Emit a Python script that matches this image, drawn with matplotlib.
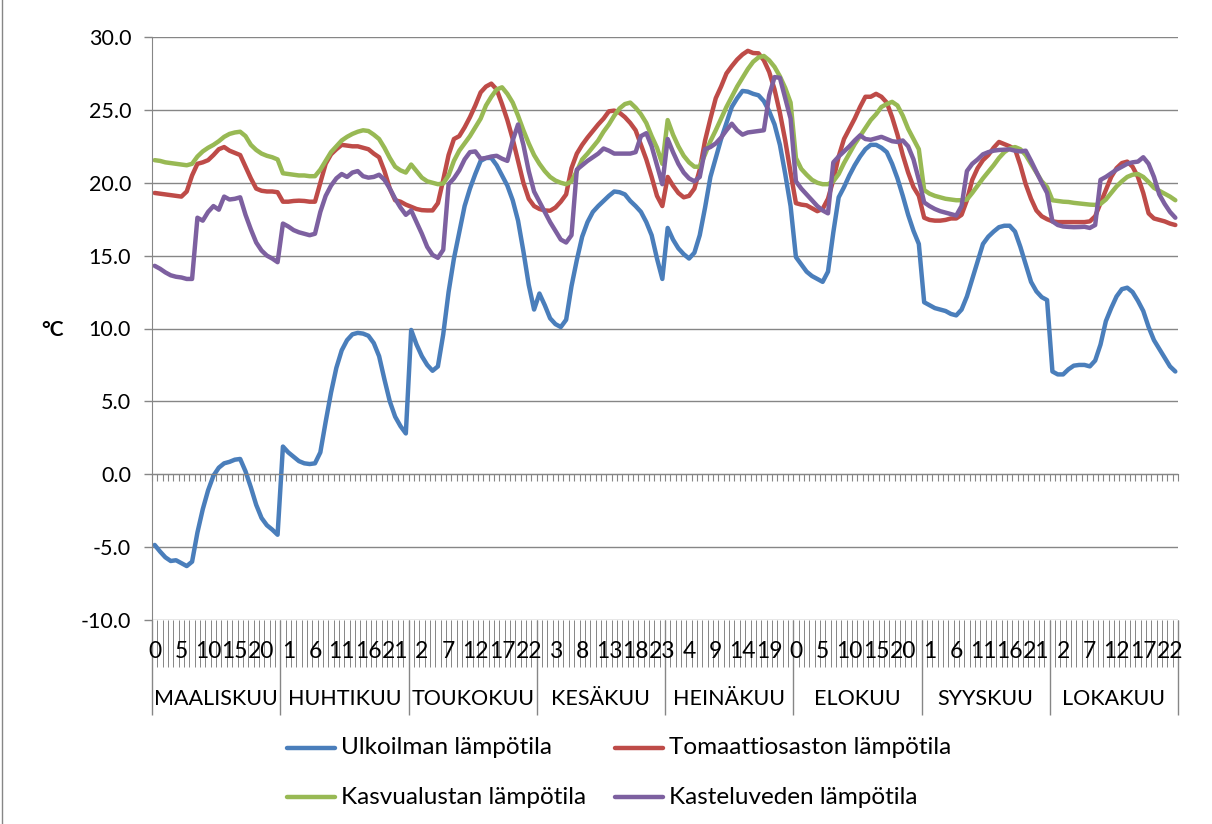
import numpy as np
import matplotlib
matplotlib.use('Agg')
import matplotlib.pyplot as plt
from matplotlib.lines import Line2D

plt.rcParams['font.family'] = ['Lato', 'DejaVu Sans']

# Kuukausien keskimääräiset tuntilämpötilat (tunnit 0-23)
months = ['MAALISKUU', 'HUHTIKUU', 'TOUKOKUU', 'KESÄKUU',
          'HEINÄKUU', 'ELOKUU', 'SYYSKUU', 'LOKAKUU']
hours = list(range(24))

ulkoilma = [
    -4.85, -5.3, -5.7, -5.95, -5.9, -6.1, -6.3, -6.0, -4.0, -2.4, -1.1, -0.1,
    0.45, 0.75, 0.85, 1.0, 1.05, 0.2, -0.9, -2.1, -3.0, -3.5, -3.8, -4.15,
    1.9, 1.5, 1.2, 0.9, 0.75, 0.7, 0.75, 1.5, 3.6, 5.6, 7.3, 8.5,
    9.2, 9.6, 9.7, 9.65, 9.5, 9.0, 8.1, 6.5, 5.0, 3.95, 3.3, 2.8,
    9.9, 8.9, 8.1, 7.5, 7.1, 7.4, 9.6, 12.5, 14.8, 16.6, 18.4, 19.6,
    20.6, 21.5, 21.7, 21.7, 21.2, 20.5, 19.8, 18.8, 17.4, 15.3, 13.0, 11.3,
    12.4, 11.6, 10.7, 10.3, 10.1, 10.6, 12.9, 14.7, 16.3, 17.3, 18.0, 18.4,
    18.75, 19.1, 19.4, 19.35, 19.2, 18.75, 18.4, 18.0, 17.3, 16.4, 14.8, 13.4,
    16.9, 16.1, 15.5, 15.1, 14.8, 15.2, 16.4, 18.3, 20.4, 21.7, 23.0, 24.1,
    25.2, 25.8, 26.3, 26.25, 26.1, 26.0, 25.6, 24.9, 24.0, 22.6, 20.6, 18.4,
    14.9, 14.4, 13.9, 13.6, 13.4, 13.2, 13.9, 16.6, 19.0, 19.7, 20.5, 21.2,
    21.8, 22.3, 22.6, 22.6, 22.4, 22.1, 21.3, 20.3, 19.1, 17.8, 16.7, 15.8,
    11.8, 11.6, 11.4, 11.3, 11.2, 11.0, 10.9, 11.3, 12.2, 13.4, 14.6, 15.8,
    16.3, 16.65, 16.95, 17.05, 17.05, 16.65, 15.6, 14.4, 13.2, 12.55, 12.15, 11.95,
    7.05, 6.85, 6.85, 7.2, 7.45, 7.5, 7.5, 7.4, 7.8, 8.9, 10.5, 11.4,
    12.2, 12.7, 12.8, 12.5, 11.9, 11.2, 10.1, 9.2, 8.6, 8.0, 7.4, 7.05,
]

tomaatti = [
    19.3, 19.25, 19.2, 19.15, 19.1, 19.05, 19.4, 20.5, 21.3, 21.4, 21.55, 21.9,
    22.3, 22.45, 22.2, 22.05, 21.9, 21.1, 20.3, 19.6, 19.45, 19.4, 19.4, 19.35,
    18.7, 18.7, 18.75, 18.77, 18.75, 18.7, 18.7, 20.0, 21.3, 21.95, 22.3, 22.6,
    22.55, 22.5, 22.5, 22.4, 22.3, 22.0, 21.75, 20.8, 19.6, 18.8, 18.7, 18.5,
    18.35, 18.2, 18.12, 18.1, 18.1, 18.6, 20.2, 21.9, 23.0, 23.2, 23.8, 24.5,
    25.3, 26.2, 26.6, 26.8, 26.4, 25.4, 24.3, 23.0, 21.5, 20.0, 18.9, 18.4,
    18.2, 18.1, 18.08, 18.3, 18.7, 19.2, 21.0, 22.0, 22.6, 23.1, 23.55, 24.0,
    24.4, 24.9, 24.95, 24.8, 24.5, 24.1, 23.6, 22.6, 21.6, 20.4, 19.1, 18.4,
    20.4, 19.8, 19.3, 19.0, 19.1, 19.6, 20.9, 22.9, 24.4, 25.8, 26.6, 27.5,
    28.0, 28.45, 28.8, 29.05, 28.9, 28.88, 28.4, 27.6, 26.4, 24.8, 22.9, 20.7,
    18.6, 18.5, 18.45, 18.25, 18.05, 18.2, 18.9, 20.2, 21.8, 23.0, 23.7, 24.4,
    25.2, 25.9, 25.9, 26.1, 25.9, 25.5, 24.5, 23.3, 21.9, 20.7, 19.7, 19.1,
    17.6, 17.45, 17.4, 17.4, 17.45, 17.55, 17.55, 17.8, 18.8, 20.2, 21.0, 21.55,
    21.9, 22.4, 22.8, 22.65, 22.5, 22.3, 21.2, 19.9, 18.9, 18.1, 17.7, 17.5,
    17.35, 17.3, 17.3, 17.3, 17.3, 17.3, 17.3, 17.35, 17.7, 18.6, 19.5, 20.4,
    21.0, 21.35, 21.45, 21.1, 20.4, 19.3, 17.9, 17.55, 17.45, 17.35, 17.2, 17.1,
]

kasvualusta = [
    21.55, 21.5, 21.4, 21.35, 21.3, 21.25, 21.2, 21.3, 21.8, 22.15, 22.4, 22.6,
    22.85, 23.15, 23.35, 23.45, 23.5, 23.2, 22.6, 22.25, 22.0, 21.85, 21.75, 21.6,
    20.65, 20.6, 20.55, 20.5, 20.5, 20.45, 20.45, 20.9, 21.5, 22.1, 22.5, 22.9,
    23.15, 23.35, 23.5, 23.6, 23.55, 23.3, 23.0, 22.4, 21.7, 21.1, 20.85, 20.7,
    21.25, 20.8, 20.35, 20.1, 20.0, 19.9, 19.95, 20.5, 21.5, 22.2, 22.7, 23.2,
    23.8, 24.4, 25.3, 25.9, 26.4, 26.55, 26.1, 25.5, 24.6, 23.6, 22.7, 21.9,
    21.3, 20.8, 20.4, 20.15, 20.0, 19.9, 20.1, 20.8, 21.6, 22.0, 22.45, 22.9,
    23.5, 24.0, 24.6, 25.1, 25.4, 25.5, 25.15, 24.7, 24.1, 23.2, 22.4, 21.3,
    24.3, 23.3, 22.5, 21.85, 21.4, 21.1, 21.1, 21.95, 22.85, 23.6, 24.4, 25.2,
    25.9, 26.6, 27.2, 27.8, 28.3, 28.6, 28.7, 28.4, 27.95, 27.3, 26.5, 25.5,
    21.7, 20.95, 20.55, 20.2, 20.0, 19.9, 19.9, 20.1, 20.6, 21.35, 22.0, 22.65,
    23.2, 23.75, 24.3, 24.7, 25.2, 25.4, 25.55, 25.3, 24.6, 23.7, 23.0, 22.3,
    19.5, 19.25, 19.1, 19.0, 18.9, 18.85, 18.8, 18.8, 18.85, 19.3, 19.8, 20.3,
    20.75, 21.2, 21.7, 22.1, 22.35, 22.45, 22.3, 21.9, 21.3, 20.7, 20.1, 19.7,
    18.8, 18.75, 18.7, 18.68, 18.62, 18.58, 18.54, 18.5, 18.48, 18.55, 18.85, 19.3,
    19.75, 20.1, 20.4, 20.55, 20.6, 20.4, 20.05, 19.65, 19.45, 19.25, 19.05, 18.8,
]

kasteluvesi = [
    14.3, 14.1, 13.85, 13.65, 13.55, 13.5, 13.4, 13.4, 17.6, 17.4, 18.0, 18.4,
    18.15, 19.05, 18.85, 18.9, 19.0, 17.8, 16.8, 15.9, 15.35, 15.0, 14.8, 14.55,
    17.2, 17.0, 16.75, 16.6, 16.5, 16.4, 16.5, 18.0, 19.1, 19.8, 20.3, 20.6,
    20.4, 20.7, 20.8, 20.45, 20.35, 20.4, 20.55, 20.2, 19.6, 18.9, 18.3, 17.8,
    18.1, 17.3, 16.5, 15.6, 15.05, 14.85, 15.4, 19.9, 20.3, 20.85, 21.6, 22.1,
    22.15, 21.65, 21.7, 21.8, 21.85, 21.65, 21.5, 22.9, 24.0, 22.6, 20.8, 19.4,
    18.7, 18.0, 17.3, 16.7, 16.1, 15.9, 16.4, 20.9, 21.2, 21.5, 21.75, 22.0,
    22.35, 22.2, 22.0, 22.0, 22.0, 22.0, 22.1, 23.2, 23.4, 22.5, 21.2, 19.9,
    23.0, 22.1, 21.3, 20.7, 20.3, 20.1, 20.4, 22.3, 22.45, 22.7, 23.1, 23.6,
    24.05, 23.6, 23.3, 23.45, 23.5, 23.55, 23.6, 26.0, 27.25, 27.2, 25.8, 24.4,
    20.1, 19.6, 19.2, 18.8, 18.4, 18.1, 17.9, 21.4, 21.8, 22.15, 22.5, 22.9,
    23.25, 23.0, 22.95, 23.05, 23.15, 23.0, 22.85, 22.8, 22.9, 22.5, 21.6, 20.2,
    18.65, 18.4, 18.2, 18.05, 17.95, 17.85, 17.75, 18.4, 20.8, 21.3, 21.6, 21.95,
    22.1, 22.2, 22.25, 22.27, 22.29, 22.2, 22.15, 22.2, 21.5, 20.75, 20.0, 19.3,
    17.35, 17.1, 17.0, 16.97, 16.95, 16.96, 16.98, 16.9, 17.1, 20.2, 20.4, 20.65,
    20.9, 21.1, 21.3, 21.4, 21.45, 21.75, 21.3, 20.4, 19.2, 18.55, 18.0, 17.6,
]

series = [
    ('Ulkoilman lämpötila', ulkoilma, '#4A7EBB'),
    ('Tomaattiosaston lämpötila', tomaatti, '#BE4B48'),
    ('Kasvualustan lämpötila', kasvualusta, '#98B954'),
    ('Kasteluveden lämpötila', kasteluvesi, '#7D60A0'),
]

grid_col = '#868686'
n = len(months) * len(hours)
x = np.arange(n) + 0.5

fig = plt.figure(figsize=(12.12, 8.24), dpi=100)
ax = fig.add_axes([152 / 1212, 1 - 620 / 824, 1026 / 1212, 583 / 824])

for label, vals, col in series:
    ax.plot(x, vals, color=col, lw=3.2, solid_joinstyle='round',
            solid_capstyle='round', label=label)

ax.set_xlim(0, n)
ax.set_ylim(-10, 30)
ax.set_yticks(np.arange(-10, 31, 5))
ax.yaxis.set_major_formatter(matplotlib.ticker.FormatStrFormatter('%.1f'))
ax.yaxis.grid(True, color=grid_col, lw=1.0)
ax.set_axisbelow(True)

for s in ['top', 'right']:
    ax.spines[s].set_visible(False)
ax.spines['left'].set_color(grid_col)
ax.spines['bottom'].set_color(grid_col)
ax.spines['bottom'].set_position(('data', 0))

# kategoria-akselin jakoviivat nollatasolla
ax.set_xticks(np.arange(n + 1))
ax.tick_params(axis='x', direction='out', length=5, width=0.8,
               color=grid_col, labelbottom=False)
ax.tick_params(axis='y', direction='out', length=6, width=1.0,
               color=grid_col, labelsize=15.5, pad=9)

# kaksitasoinen luokka-akseli kuvaajan alle
tr = ax.get_xaxis_transform()
row1 = -47 / 583
row2 = -95 / 583
ax.vlines(np.arange(n + 1), row1, 0, transform=tr, colors=grid_col,
          lw=0.7, clip_on=False)
ax.vlines(np.arange(0, n + 1, 24), row2, 0, transform=tr, colors=grid_col,
          lw=1.0, clip_on=False)

for i in range(0, n, 5):
    ax.text(i + 0.5, -32 / 583, str(i % 24), transform=tr, ha='center',
            va='center', fontsize=16.5)
for m, name in enumerate(months):
    ax.text(24 * m + 12, -79 / 583, name, transform=tr, ha='center',
            va='center', fontsize=15.5)

fig.text(53 / 1212, 1 - 330 / 824, '°C', ha='center', va='center',
         fontsize=15, fontweight='bold')

# selite
legend_pos = [(287, 748), (615, 748), (287, 797), (615, 797)]
for (label, vals, col), (lx, ly) in zip(series, legend_pos):
    yf = 1 - ly / 824
    fig.add_artist(Line2D([lx / 1212, (lx + 48) / 1212], [yf, yf], color=col,
                          lw=3.2, solid_capstyle='round'))
    fig.text((lx + 54) / 1212, yf, label, ha='left', va='center', fontsize=17.5)

fig.add_artist(Line2D([2.5 / 1212, 2.5 / 1212], [0, 1], color=grid_col, lw=1.0))

fig.savefig('out.png', dpi=100)
